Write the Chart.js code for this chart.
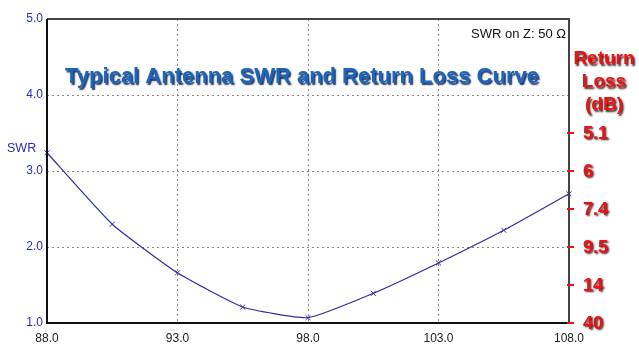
<!DOCTYPE html>
<html>
<head>
<meta charset="utf-8">
<script src="https://cdn.jsdelivr.net/npm/chart.js@4"></script>
<style>
  html, body { margin: 0; padding: 0; background: #fff; }
  #wrap { width: 639px; height: 359px; position: relative; }
</style>
</head>
<body>
<div id="wrap"><canvas id="grafico"></canvas></div>
<script>
// datos
const frecuencias = [88, 90.5, 93, 95.5, 98, 100.5, 103, 105.5, 108];
const valoresSWR = [3.24, 2.30, 1.66, 1.21, 1.07, 1.39, 1.79, 2.22, 2.70];
const ticksX = [88, 93, 98, 103, 108];
const ticksSWR = [1, 2, 3, 4, 5];
const ticksRL = [1, 1.5, 2, 2.5, 3, 3.5];
const etiquetasRL = ['40', '14', '9.5', '7.4', '6', '5.1'];

const titulo = 'Typical Antenna SWR and Return Loss Curve';
const tituloRL = ['Return', 'Loss', '(dB)'];

const AZUL = '#2b2bb5';
const ROJO = '#ee1111';

// textos, marco y eje de return loss
const extras = {
    id: 'extras',
    afterDraw(chart) {
        const ctx = chart.ctx;
        const a = chart.chartArea;
        const y2 = chart.scales.y2;

        // marco
        ctx.save();
        ctx.lineWidth = 2;
        ctx.strokeStyle = '#444';
        ctx.beginPath();
        ctx.moveTo(a.left, a.top); ctx.lineTo(a.right, a.top); ctx.lineTo(a.right, a.bottom);
        ctx.stroke();
        ctx.strokeStyle = '#111';
        ctx.beginPath();
        ctx.moveTo(a.left, a.top); ctx.lineTo(a.left, a.bottom); ctx.lineTo(a.right, a.bottom);
        ctx.stroke();
        ctx.restore();

        // titulo
        ctx.save();
        ctx.font = 'bold 22px "Liberation Sans", Arial, sans-serif';
        ctx.textAlign = 'center';
        ctx.textBaseline = 'alphabetic';
        ctx.shadowColor = 'rgba(5,25,70,0.9)';
        ctx.shadowOffsetX = 1.5; ctx.shadowOffsetY = 1.5; ctx.shadowBlur = 1.5;
        ctx.fillStyle = '#1b66bd';
        ctx.fillText(titulo, 302, 83);
        ctx.restore();

        // SWR on Z
        ctx.save();
        ctx.font = '13px "Liberation Sans", Arial, sans-serif';
        ctx.fillStyle = '#111';
        ctx.textAlign = 'right';
        ctx.fillText('SWR on Z: 50 Ω', 566, 38);
        // etiqueta eje izquierdo
        ctx.font = '12.5px "Liberation Sans", Arial, sans-serif';
        ctx.fillStyle = AZUL;
        ctx.textAlign = 'left';
        ctx.fillText('SWR', 7, 152);
        ctx.restore();

        // eje derecho (return loss)
        ctx.save();
        ctx.strokeStyle = ROJO;
        ctx.lineWidth = 2;
        ticksRL.forEach(v => {
            const y = y2.getPixelForValue(v);
            ctx.beginPath(); ctx.moveTo(a.right - 2, y); ctx.lineTo(a.right + 5, y); ctx.stroke();
        });
        ctx.shadowColor = 'rgba(40,0,0,0.9)';
        ctx.shadowOffsetX = 1.5; ctx.shadowOffsetY = 1.5; ctx.shadowBlur = 2;
        ctx.fillStyle = ROJO;
        ctx.font = 'bold 18px "Liberation Sans", Arial, sans-serif';
        ctx.textAlign = 'left';
        ctx.textBaseline = 'middle';
        ticksRL.forEach((v, i) => {
            ctx.fillText(etiquetasRL[i], a.right + 14, y2.getPixelForValue(v) + 1);
        });
        ctx.font = 'bold 19px "Liberation Sans", Arial, sans-serif';
        ctx.textAlign = 'center';
        ctx.textBaseline = 'alphabetic';
        tituloRL.forEach((t, i) => ctx.fillText(t, 604, 64 + i * 23));
        ctx.restore();
    }
};

const ctx = document.getElementById('grafico').getContext('2d');
const miGrafico = new Chart(ctx, {
    type: 'line',
    data: {
        datasets: [{
            data: frecuencias.map((f, i) => ({ x: f, y: valoresSWR[i] })),
            borderColor: '#2e2e9e', borderWidth: 1.2, tension: 0.15,
            pointStyle: 'crossRot', pointRadius: 3.5, pointBorderColor: '#2e2e9e', pointBorderWidth: 1,
            clip: false
        }]
    },
    options: {
        responsive: true, maintainAspectRatio: false, animation: false,
        layout: { padding: { top: 19, left: 0, right: 0, bottom: 0 } },
        plugins: { legend: { display: false }, tooltip: { enabled: false } },
        scales: {
            x: {
                type: 'linear', min: 88, max: 108,
                afterBuildTicks: s => { s.ticks = ticksX.map(v => ({ value: v })); },
                afterFit: s => { s.height = 36; },
                ticks: { callback: v => v.toFixed(1), color: '#222', font: { family: '"Liberation Sans", Arial', size: 12 }, padding: 8, maxRotation: 0 },
                grid: { color: '#888', lineWidth: 1, drawTicks: false },
                border: { display: false, dash: [2, 3] }
            },
            y: {
                position: 'left', min: 1, max: 5,
                afterBuildTicks: s => { s.ticks = ticksSWR.map(v => ({ value: v })); },
                afterFit: s => { s.width = 47; },
                ticks: { callback: v => v.toFixed(1), color: AZUL, font: { family: '"Liberation Sans", Arial', size: 12 }, padding: 4 },
                grid: { color: '#888', lineWidth: 1, drawTicks: false },
                border: { display: false, dash: [2, 3] }
            },
            y2: {
                position: 'right', min: 1, max: 5,
                afterBuildTicks: s => { s.ticks = ticksRL.map(v => ({ value: v })); },
                afterFit: s => { s.width = 70; },
                ticks: { display: false },
                grid: { display: false },
                border: { display: false }
            }
        }
    },
    plugins: [extras]
});
</script>
</body>
</html>
